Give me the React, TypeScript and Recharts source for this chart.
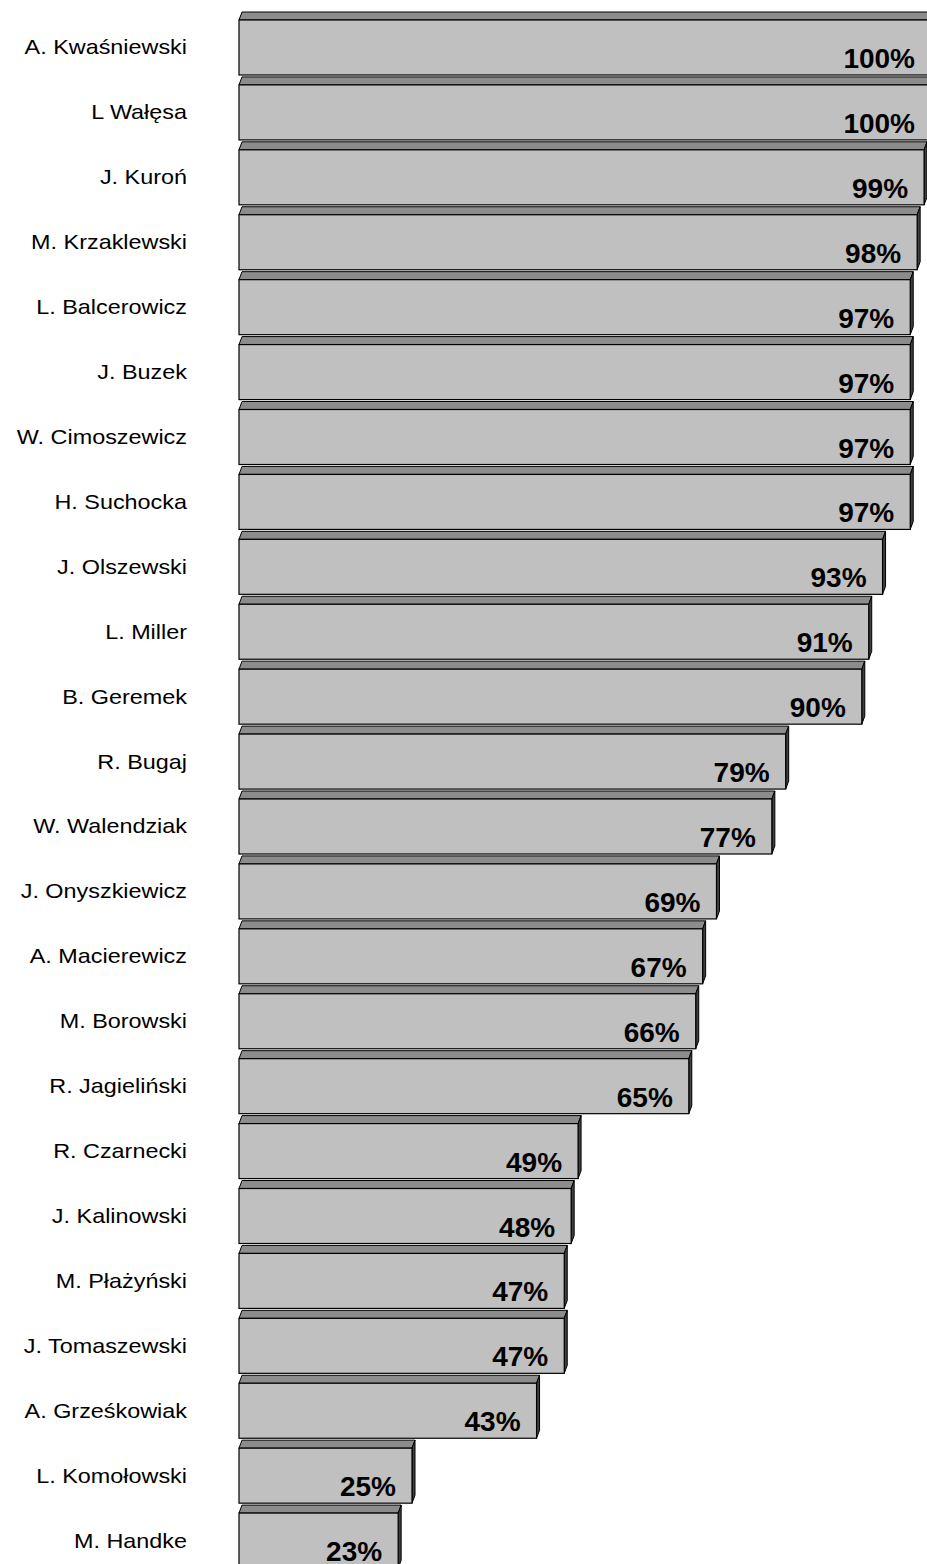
import React from "react";
import { BarChart, Bar, XAxis, YAxis } from "recharts";

// politician names, top to bottom
const names = [
  "A. Kwaśniewski",
  "L Wałęsa",
  "J. Kuroń",
  "M. Krzaklewski",
  "L. Balcerowicz",
  "J. Buzek",
  "W. Cimoszewicz",
  "H. Suchocka",
  "J. Olszewski",
  "L. Miller",
  "B. Geremek",
  "R. Bugaj",
  "W. Walendziak",
  "J. Onyszkiewicz",
  "A. Macierewicz",
  "M. Borowski",
  "R. Jagieliński",
  "R. Czarnecki",
  "J. Kalinowski",
  "M. Płażyński",
  "J. Tomaszewski",
  "A. Grześkowiak",
  "L. Komołowski",
  "M. Handke",
];

// recognition, percent
const recognition = [
  100, 100, 99, 98, 97, 97, 97, 97, 93, 91, 90, 79, 77, 69, 67, 66, 65, 49, 48,
  47, 47, 43, 25, 23,
];

const xTicks = [0, 100];

const chartData = names.map((name, i) => ({ name, value: recognition[i] }));

const FONT = '"Liberation Sans", Arial, Helvetica, sans-serif';
const DEPTH_X = 3;
const DEPTH_Y = 8;

// 3D-looking bar: front face, slanted top face, dark right side, value label
const Bar3D = (props: any) => {
  const { x, y, width, height, value } = props;
  const right = x + width;
  const top = `${x},${y} ${x + DEPTH_X},${y - DEPTH_Y} ${right + DEPTH_X},${y - DEPTH_Y} ${right},${y}`;
  const side = `${right},${y} ${right + DEPTH_X},${y - DEPTH_Y} ${right + DEPTH_X},${y + height - DEPTH_Y} ${right},${y + height}`;
  return (
    <g>
      <polygon points={top} fill="#8c8c8c" stroke="#000" strokeWidth={1} />
      <polygon points={side} fill="#404040" stroke="#000" strokeWidth={1} />
      <rect x={x} y={y} width={width} height={height} fill="#c0c0c0" stroke="#000" strokeWidth={1.2} />
      <text
        x={right - 16}
        y={y + height - 7}
        textAnchor="end"
        fontFamily={FONT}
        fontWeight="bold"
        fontSize={28}
        fill="#000"
      >
        {value}%
      </text>
    </g>
  );
};

// category labels look horizontally stretched in the original
const NameTick = (props: any) => {
  const { y, payload } = props;
  return (
    <text
      transform={`translate(187, ${y + 7}) scale(1.17, 1)`}
      textAnchor="end"
      fontFamily={FONT}
      fontSize={20}
      fill="#000"
    >
      {payload.value}
    </text>
  );
};

export default function App() {
  return (
    <div
      style={{
        position: "absolute",
        left: 0,
        top: 0,
        width: 927,
        height: 1564,
        overflow: "hidden",
        background: "#fff",
      }}
    >
      <BarChart
        width={940}
        height={1573}
        data={chartData}
        layout="vertical"
        margin={{ top: 15, right: 9, bottom: 0, left: 0 }}
        barSize={55}
      >
        <XAxis type="number" domain={[0, 100]} ticks={xTicks} hide />
        <YAxis
          type="category"
          dataKey="name"
          width={239}
          axisLine={false}
          tickLine={false}
          interval={0}
          tick={<NameTick />}
        />
        <Bar dataKey="value" shape={<Bar3D />} isAnimationActive={false} />
      </BarChart>
    </div>
  );
}
